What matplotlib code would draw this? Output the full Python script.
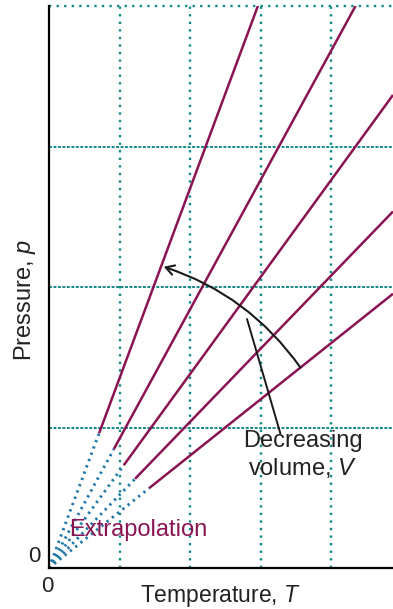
import numpy as np
import matplotlib
matplotlib.use("Agg")
import matplotlib.pyplot as plt
from matplotlib.patches import FancyArrowPatch

plt.rcParams['font.family'] = ['Liberation Sans', 'DejaVu Sans']
plt.rcParams['mathtext.fontset'] = 'custom'
plt.rcParams['mathtext.rm'] = 'Liberation Sans'
plt.rcParams['mathtext.it'] = 'Liberation Sans:italic'

# isochores p = k T, one line per volume (steeper = smaller volume)
slopes = [1.35, 0.92, 0.69, 0.52, 0.40]
# where the measured (solid) part of each line begins
solid_start = [0.71, 0.92, 1.06, 1.22, 1.42]
x_grid = [1, 2, 3, 4]
y_grid = [1, 2, 3, 4]

line_col = '#8a1452'
dot_col = '#2379a8'
grid_col = '#138a88'

fig = plt.figure(figsize=(3.93, 6.09), dpi=100)
ax = fig.add_axes([49/393, 1 - 568/609, 1 - 49/393, (568 - 6)/609])
xmax = (393 - 49) / 70.5
ax.set_xlim(0, xmax)
ax.set_ylim(0, 4)

# grid
for gx in x_grid:
    ax.plot([gx, gx], [0, 4], color=grid_col, lw=1.7, ls=(0, (1, 2.2)), zorder=1)
for gy in y_grid[:-1]:
    ax.plot([0, xmax], [gy, gy], color=grid_col, lw=1.4, ls=(0, (1.5, 0.8)), zorder=1)
ax.plot([0, xmax], [4, 4], color=grid_col, lw=1.7, ls=(0, (1, 2.2)), zorder=1, clip_on=False)

# lines
for k, x0 in zip(slopes, solid_start):
    ax.plot([0, x0], [0, k * x0], color=dot_col, lw=2.1, ls=(0, (0.8, 1.5)), zorder=2)
    x1 = min(xmax, 4 / k)
    ax.plot([x0, x1], [k * x0, k * x1], color=line_col, lw=1.8, zorder=3,
            solid_capstyle='butt')

ax.spines['top'].set_visible(False)
ax.spines['right'].set_visible(False)
ax.spines['left'].set_linewidth(1.6)
ax.spines['bottom'].set_linewidth(1.6)
ax.set_xticks([])
ax.set_yticks([])

# curved arrow
arr = FancyArrowPatch((3.59, 1.41), (1.59, 2.15), connectionstyle='arc3,rad=0.17',
                      arrowstyle='->,head_length=6,head_width=3.5', color='#1a1a1a',
                      lw=1.5, zorder=4)
ax.add_patch(arr)
ax.plot([2.81, 3.28], [1.77, 0.96], color='#1a1a1a', lw=1.4, zorder=4)

ax.text(3.60, 0.98, 'Decreasing\nvolume, $V$', ha='center', va='top', fontsize=17,
        color='#222222', linespacing=1.2, zorder=5)
ax.text(0.28, 0.27, 'Extrapolation', ha='left', va='center', fontsize=17,
        color=line_col, zorder=5)

fig.text(34/393, 1 - 557/609, '0', ha='center', va='center', fontsize=16, color='#222222')
fig.text(47/393, 1 - 587/609, '0', ha='center', va='center', fontsize=16, color='#222222')
fig.text(25/393, 1 - 300/609, 'Pressure, $p$', rotation=90, ha='center', va='center',
         fontsize=17, color='#222222')
fig.text(220/393, 1 - 596/609, 'Temperature, $T$', ha='center', va='center',
         fontsize=16.5, color='#222222')

fig.savefig('out.png', dpi=100)
